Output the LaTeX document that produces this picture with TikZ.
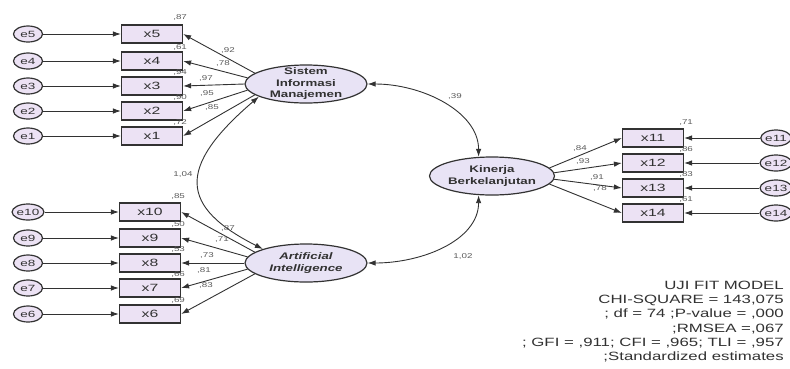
\documentclass[tikz,border=0pt]{standalone}
\usepackage{fontspec}
\setmainfont{Liberation Sans}
\usepackage{graphicx}
\usetikzlibrary{shapes.geometric,arrows.meta}
\newcommand{\hstretch}[1]{\scalebox{1.5}[1]{#1}}
\definecolor{boxfill}{RGB}{236,226,244}
\definecolor{latfill}{RGB}{232,227,245}
\definecolor{edge}{RGB}{50,50,50}
\definecolor{numgray}{RGB}{90,90,90}
\tikzset{>={Latex[length=8pt,width=5.5pt]},
  obs/.style={draw=edge, line width=1.2pt, fill=boxfill, minimum width=61pt, minimum height=18pt, inner sep=0pt, text=edge, font=\fontsize{10.5}{10.5}\selectfont},
  err/.style={ellipse, draw=edge, line width=1.2pt, fill=boxfill, minimum width=29pt, minimum height=16pt, inner sep=0pt, text=edge, font=\fontsize{9}{9}\selectfont},
  latent/.style={ellipse, draw=edge, line width=1.2pt, fill=latfill, minimum width=122pt, minimum height=38pt},
  ltext/.style={xscale=1.4, align=center, inner sep=0pt, text=edge, font=\fontsize{9.5}{11.5}\selectfont\bfseries},
  coef/.style={text=numgray, inner sep=0pt, xscale=1.4, font=\fontsize{7}{7}\selectfont},
  link/.style={draw=edge, line width=0.9pt}
}

\begin{document}
\begin{tikzpicture}[x=1pt,y=-1pt]
                \useasboundingbox (0,0) rectangle (790,368);
                % latent variables
                \node[latent] (sim) at (306,84) {};
                \node[ltext] (simtxt) at (sim) {Sistem\\Informasi\\Manajemen};
                \node[latent] (ai) at (306,263) {};
                \node[ltext, font=\fontsize{9.5}{11.5}\selectfont\bfseries\itshape] (aitxt) at (ai) {Artificial\\Intelligence};
                \node[latent, minimum width=125pt] (kb) at (492,176) {};
                \node[ltext] (kbtxt) at (kb) {Kinerja\\Berkelanjutan};
                % indicators sistem informasi manajemen
                \node[obs] (x5) at (152,34) {\hstretch{x5}};
                \node[obs] (x4) at (152,61) {\hstretch{x4}};
                \node[obs] (x3) at (152,86) {\hstretch{x3}};
                \node[obs] (x2) at (152,111) {\hstretch{x2}};
                \node[obs] (x1) at (152,136) {\hstretch{x1}};
                \node[err] (e5) at (28,34) {\hstretch{e5}};
                \node[err] (e4) at (28,61) {\hstretch{e4}};
                \node[err] (e3) at (28,86) {\hstretch{e3}};
                \node[err] (e2) at (28,111) {\hstretch{e2}};
                \node[err] (e1) at (28,136) {\hstretch{e1}};
                % indicators artificial intelligence
                \node[obs] (x10) at (150,212) {\hstretch{x10}};
                \node[obs] (x9) at (150,238) {\hstretch{x9}};
                \node[obs] (x8) at (150,263) {\hstretch{x8}};
                \node[obs] (x7) at (150,288) {\hstretch{x7}};
                \node[obs] (x6) at (150,314) {\hstretch{x6}};
                \node[err] (e10) at (28,212) {\hstretch{e10}};
                \node[err] (e9) at (28,238) {\hstretch{e9}};
                \node[err] (e8) at (28,263) {\hstretch{e8}};
                \node[err] (e7) at (28,288) {\hstretch{e7}};
                \node[err] (e6) at (28,314) {\hstretch{e6}};
                % indicators kinerja berkelanjutan
                \node[obs] (x11) at (653,138) {\hstretch{x11}};
                \node[obs] (x12) at (653,163) {\hstretch{x12}};
                \node[obs] (x13) at (653,188) {\hstretch{x13}};
                \node[obs] (x14) at (653,213) {\hstretch{x14}};
                \node[err] (e11) at (776,138) {\hstretch{e11}};
                \node[err] (e12) at (776,163) {\hstretch{e12}};
                \node[err] (e13) at (776,188) {\hstretch{e13}};
                \node[err] (e14) at (776,213) {\hstretch{e14}};
                % error terms
                \draw[link,->] (e5) -- (x5);
                \draw[link,->] (e4) -- (x4);
                \draw[link,->] (e3) -- (x3);
                \draw[link,->] (e2) -- (x2);
                \draw[link,->] (e1) -- (x1);
                \draw[link,->] (e10) -- (x10);
                \draw[link,->] (e9) -- (x9);
                \draw[link,->] (e8) -- (x8);
                \draw[link,->] (e7) -- (x7);
                \draw[link,->] (e6) -- (x6);
                \draw[link,->] (e11) -- (x11);
                \draw[link,->] (e12) -- (x12);
                \draw[link,->] (e13) -- (x13);
                \draw[link,->] (e14) -- (x14);
                % loadings
                \draw[link,->] (sim.168) -- (x5.east);
                \draw[link,->] (sim.174) -- (x4.east);
                \draw[link,->] (sim.180) -- (x3.east);
                \draw[link,->] (sim.186) -- (x2.east);
                \draw[link,->] (sim.192) -- (x1.east);
                \draw[link,->] (ai.168) -- (x10.east);
                \draw[link,->] (ai.174) -- (x9.east);
                \draw[link,->] (ai.180) -- (x8.east);
                \draw[link,->] (ai.186) -- (x7.east);
                \draw[link,->] (ai.192) -- (x6.east);
                \draw[link,->] (kb.8) -- (x11.west);
                \draw[link,->] (kb.3) -- (x12.west);
                \draw[link,->] (kb.-3) -- (x13.west);
                \draw[link,->] (kb.-8) -- (x14.west);
                % covariances
                \draw[link,<->] (sim.east) .. controls +(55,0) and +(0,-45) .. (kb.125);
                \draw[link,<->] (ai.east) .. controls +(55,0) and +(0,45) .. (kb.235);
                \draw[link,<->] (sim.195) .. controls +(-83,71) and +(-83,-42) .. (ai.162);
                \node[coef] (csk) at (455,96) {,39};
                \node[coef] (cak) at (463,256) {1,02};
                \node[coef] (csa) at (183,174) {1,04};
                % estimates
                \node[coef] (l5) at (228,50) {,92};
                \node[coef] (l4) at (223,63) {,78};
                \node[coef] (l3) at (206,78) {,97};
                \node[coef] (l2) at (207,93) {,95};
                \node[coef] (l1) at (212,107) {,85};
                \node[coef] (l10) at (228,228) {,87};
                \node[coef] (l9) at (222,240) {,71};
                \node[coef] (l8) at (207,255) {,73};
                \node[coef] (l7) at (204,270) {,81};
                \node[coef] (l6) at (206,285) {,83};
                \node[coef] (l11) at (580,148) {,84};
                \node[coef] (l12) at (583,161) {,93};
                \node[coef] (l13) at (597,177) {,91};
                \node[coef] (l14) at (600,188) {,78};
                \node[coef, anchor=south] (r5) at ([xshift=-3pt,yshift=4pt]x5.north east) {,87};
                \node[coef, anchor=south] (r4) at ([xshift=-3pt,yshift=1pt]x4.north east) {,61};
                \node[coef, anchor=south] (r3) at ([xshift=-3pt,yshift=1pt]x3.north east) {,94};
                \node[coef, anchor=south] (r2) at ([xshift=-3pt,yshift=1pt]x2.north east) {,90};
                \node[coef, anchor=south] (r1) at ([xshift=-3pt,yshift=1pt]x1.north east) {,72};
                \node[coef, anchor=south] (r10) at ([xshift=-3pt,yshift=3pt]x10.north east) {,85};
                \node[coef, anchor=south] (r9) at ([xshift=-3pt,yshift=1pt]x9.north east) {,50};
                \node[coef, anchor=south] (r8) at ([xshift=-3pt,yshift=1pt]x8.north east) {,53};
                \node[coef, anchor=south] (r7) at ([xshift=-3pt,yshift=1pt]x7.north east) {,66};
                \node[coef, anchor=south] (r6) at ([xshift=-3pt,yshift=1pt]x6.north east) {,69};
                \node[coef, anchor=south] (r11) at ([xshift=2pt,yshift=3pt]x11.north east) {,71};
                \node[coef, anchor=south] (r12) at ([xshift=2pt,yshift=1pt]x12.north east) {,86};
                \node[coef, anchor=south] (r13) at ([xshift=2pt,yshift=1pt]x13.north east) {,83};
                \node[coef, anchor=south] (r14) at ([xshift=2pt,yshift=1pt]x14.north east) {,61};
                % fit
                \node[anchor=north east, align=right, inner sep=0pt, xscale=1.4, text=edge, font=\fontsize{12}{14.2}\selectfont] (fit) at (784,281) {UJI FIT MODEL\\CHI-SQUARE = 143,075\\; df = 74 ;P-value = ,000\\;RMSEA =,067\\; GFI = ,911; CFI = ,965; TLI = ,957\\;Standardized estimates};
\end{tikzpicture}
\end{document}
